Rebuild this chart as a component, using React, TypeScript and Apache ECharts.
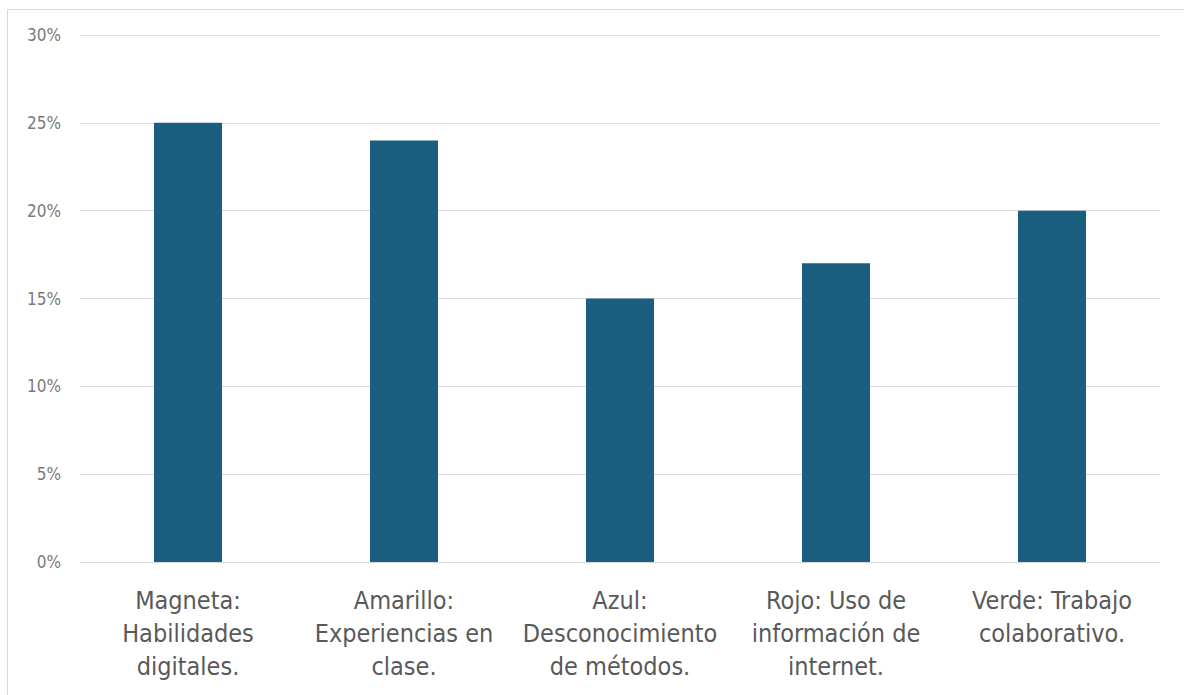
import React, { useEffect, useRef } from "react";
import * as echarts from "echarts";

const categories = [
  "Magneta:\nHabilidades\ndigitales.",
  "Amarillo:\nExperiencias en\nclase.",
  "Azul:\nDesconocimiento\nde métodos.",
  "Rojo: Uso de\ninformación de\ninternet.",
  "Verde: Trabajo\ncolaborativo.",
];
const values = [25, 24, 15, 17, 20];
const yTicks = [0, 5, 10, 15, 20, 25, 30];

const FONT = "'DejaVu Sans Condensed', 'DejaVu Sans', sans-serif";

export default function App() {
  const ref = useRef<HTMLDivElement>(null);
  useEffect(() => {
    if (!ref.current) return;
    const chart = echarts.init(ref.current, undefined, { renderer: "svg" });
    chart.setOption({
      animation: false,
      backgroundColor: "#ffffff",
      grid: { left: 80, right: 24, top: 35, bottom: 133 },
      graphic: [
        {
          type: "rect",
          shape: { x: 7.5, y: 9.5, width: 1200, height: 700 },
          style: { fill: "none", stroke: "#d9d9d9", lineWidth: 1 },
          silent: true,
          z: -10,
        },
      ],
      xAxis: {
        type: "category",
        data: categories,
        axisTick: { show: false },
        axisLine: { lineStyle: { color: "#d9d9d9", width: 1 } },
        axisLabel: {
          interval: 0,
          margin: 22,
          color: "#595959",
          fontSize: 25,
          lineHeight: 33,
          fontFamily: FONT,
          align: "center",
        },
      },
      yAxis: {
        type: "value",
        min: yTicks[0],
        max: yTicks[yTicks.length - 1],
        interval: 5,
        axisLine: { show: false },
        axisTick: { show: false },
        splitLine: { lineStyle: { color: "#d9d9d9", width: 1 } },
        axisLabel: {
          formatter: (v: number) => v + "%",
          color: "#7a7a7a",
          fontSize: 17,
          margin: 19,
          fontFamily: FONT,
        },
      },
      series: [
        {
          type: "bar",
          data: values,
          barWidth: "31.5%",
          itemStyle: { color: "#1A5E80" },
        },
      ],
    });
    return () => chart.dispose();
  }, []);
  return (
    <div
      ref={ref}
      style={{ position: "fixed", left: 0, top: 0, width: 1184, height: 695 }}
    />
  );
}
